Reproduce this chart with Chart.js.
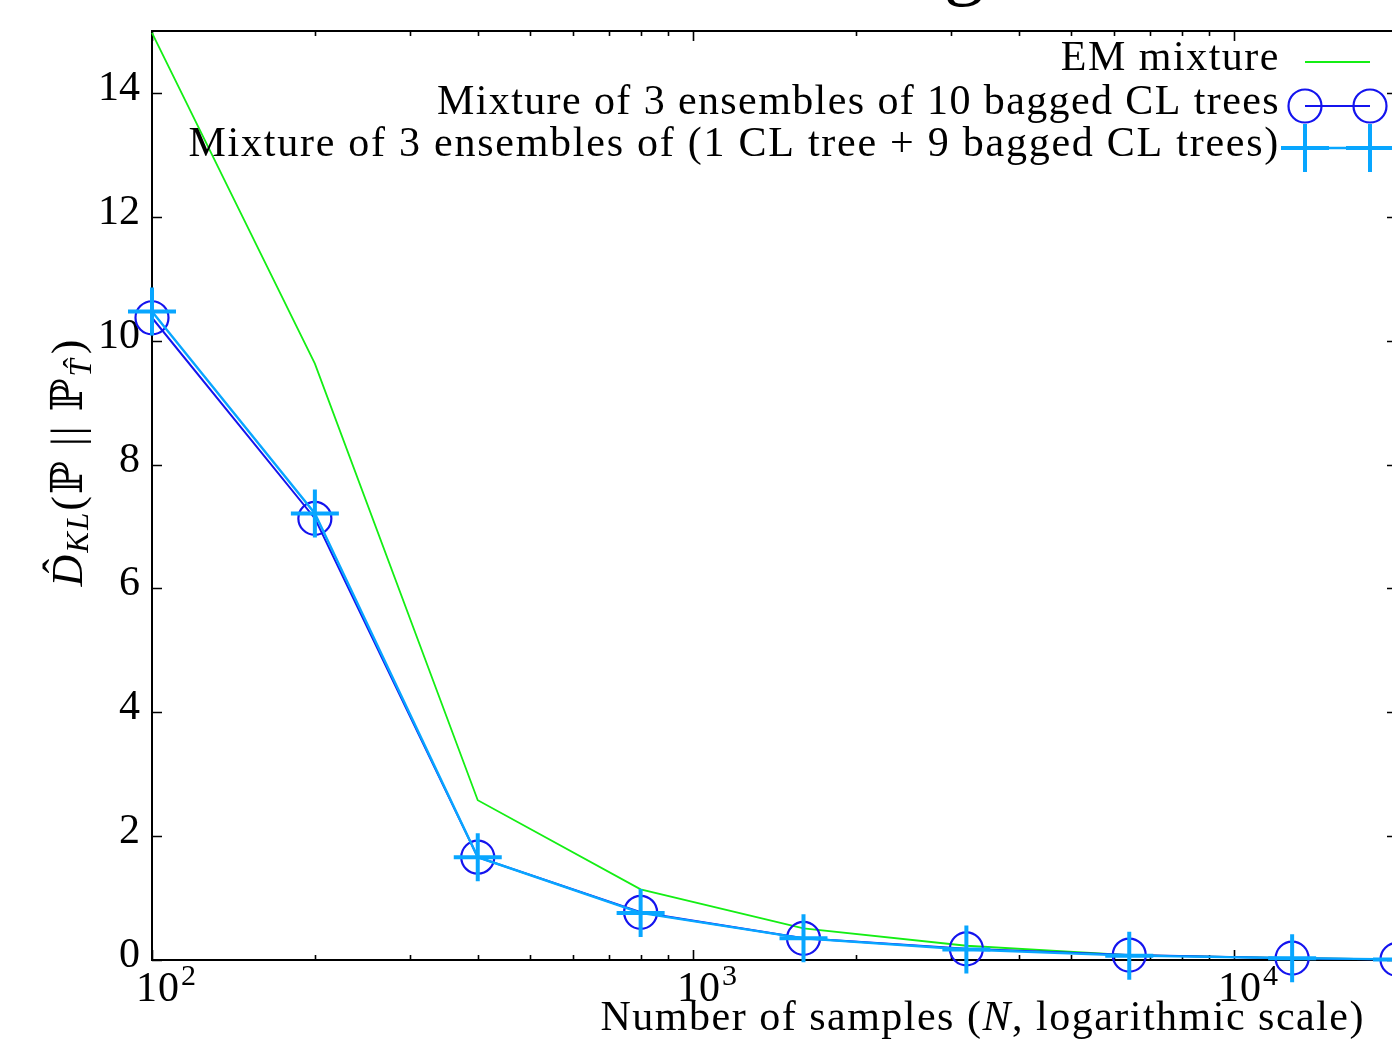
<!DOCTYPE html>
<html><head><meta charset="utf-8">
<script src="https://cdn.jsdelivr.net/npm/chart.js@4.4.0/dist/chart.umd.min.js"></script>
<style>
html,body{margin:0;padding:0;background:#fff;overflow:hidden;width:1392px;height:1043px}
#wrap{position:relative;width:1470px;height:1043px}
canvas{display:block}
#ttl{position:absolute;left:944px;top:-77px;font-size:80px;line-height:80px;font-family:'Liberation Serif','DejaVu Serif',serif;color:#000;white-space:nowrap}
</style></head><body>
<div id="wrap"><canvas id="c" width="1470" height="1043"></canvas><div id="ttl">g</div></div>
<script>
// ---- data ----
const sampleSizes = [100, 200, 400, 800, 1600, 3200, 6400, 12800, 20000];
const emMixture   = [14.97, 9.63, 2.58, 1.14, 0.51, 0.23, 0.08, 0.03, 0.01];
const bagged      = [10.37, 7.13, 1.66, 0.77, 0.35, 0.18, 0.08, 0.03, 0.01];
const cltBagged   = [10.47, 7.21, 1.66, 0.76, 0.35, 0.17, 0.07, 0.03, 0.01];
const seriesLabels = [
  'EM mixture',
  'Mixture of 3 ensembles of 10 bagged CL trees',
  'Mixture of 3 ensembles of (1 CL tree + 9 bagged CL trees)'
];
const yTicks = [0, 2, 4, 6, 8, 10, 12, 14];
const xMajorTicks = [100, 1000, 10000];
const xTickBase = '10';
const xTickExponents = ['2', '3', '4'];
const xTitleParts = ['Number of samples (', 'N', ', logarithmic scale)'];

// ---- styles ----
const FONT = "'Liberation Serif','DejaVu Serif',serif";
const FS = 42;
const GREEN = '#14ee14', DBLUE = '#1414ee', LBLUE = '#08a6ff';
const CW = 1470, CH = 1043;
const AREA = {left: 152, top: 31, right: 1397, bottom: 960};

const pts = arr => sampleSizes.map((x, i) => ({x, y: arr[i]}));

const framePlugin = {
  id: 'frame',
  beforeDatasetsDraw(chart) {
    const {ctx, chartArea: a, scales: {x, y}} = chart;
    ctx.save();
    ctx.strokeStyle = '#000';
    ctx.lineWidth = 2;
    ctx.strokeRect(a.left, a.top, a.right - a.left, a.bottom - a.top);
    ctx.lineWidth = 1.6;
    ctx.beginPath();
    yTicks.forEach(v => {
      const py = Math.round(y.getPixelForValue(v)) + 0.5;
      ctx.moveTo(a.left, py); ctx.lineTo(a.left + 10, py);
      ctx.moveTo(a.right, py); ctx.lineTo(a.right - 10, py);
    });
    for (let d = 100; d <= 10000; d *= 10) {
      for (let m = 1; m <= 9; m++) {
        const v = d * m;
        if (v > x.max) break;
        const len = m === 1 ? 10 : 5;
        const px = Math.round(x.getPixelForValue(v)) + 0.5;
        ctx.moveTo(px, a.bottom); ctx.lineTo(px, a.bottom - len);
        ctx.moveTo(px, a.top); ctx.lineTo(px, a.top + len);
      }
    }
    ctx.stroke();
    // x tick labels 10^k
    ctx.fillStyle = '#000';
    ctx.textBaseline = 'alphabetic';
    ctx.textAlign = 'left';
    xMajorTicks.forEach((v, i) => {
      const px = x.getPixelForValue(v);
      ctx.font = FS + 'px ' + FONT;
      ctx.letterSpacing = '1px';
      const w = ctx.measureText(xTickBase).width;
      ctx.fillText(xTickBase, px - 16, 1001);
      ctx.font = Math.round(FS * 0.72) + 'px ' + FONT;
      ctx.fillText(xTickExponents[i], px - 16 + w + 1, 985);
    });
    ctx.restore();
  },
  afterDraw(chart) {
    const {ctx} = chart;
    ctx.save();
    ctx.fillStyle = '#000';
    // x title
    ctx.textBaseline = 'alphabetic';
    ctx.letterSpacing = '1.5px';
    const fReg = FS + 'px ' + FONT, fIt = 'italic ' + FS + 'px ' + FONT;
    const fonts = [fReg, fIt, fReg];
    let widths = xTitleParts.map((t, i) => { ctx.font = fonts[i]; return ctx.measureText(t).width; });
    let x0 = 1365 - widths.reduce((s, w) => s + w, 0);
    xTitleParts.forEach((t, i) => { ctx.font = fonts[i]; ctx.fillText(t, x0, 1030); x0 += widths[i]; });
    // y title (rotated)
    const YF = 44;
    const sub = Math.round(YF * 0.7);
    ctx.letterSpacing = '2px';
    const parts = [
      {t: 'D', f: 'italic ' + YF + 'px ' + FONT, dy: 0, hat: true},
      {t: 'KL', f: 'italic ' + sub + 'px ' + FONT, dy: 6},
      {t: '(ℙ || ℙ', f: YF + 'px ' + FONT, dy: 0},
      {t: 'T', f: 'italic ' + sub + 'px ' + FONT, dy: 9, hat: true},
      {t: ')', f: YF + 'px ' + FONT, dy: 0}
    ];
    const pw = parts.map(p => { ctx.font = p.f; return ctx.measureText(p.t).width + (p.t === 'T' ? 3 : 0); });
    const total = pw.reduce((s, w) => s + w, 0);
    ctx.translate(82, 462);
    ctx.rotate(-Math.PI / 2);
    let cx = -total / 2;
    parts.forEach((p, i) => {
      ctx.font = p.f;
      ctx.textAlign = 'left';
      ctx.fillText(p.t, cx, p.dy);
      if (p.hat) {
        const size = parseInt(p.f.match(/(\d+)px/)[1]);
        ctx.font = size + 'px ' + FONT;
        ctx.textAlign = 'center';
        ctx.fillText('ˆ', cx + pw[i] / 2 + size * 0.1, p.dy - size * 0.2);
      }
      cx += pw[i];
    });
    ctx.restore();
  },
  afterDatasetsDraw(chart) {
    const ctx = chart.ctx;
    ctx.save();
    ctx.font = FS + 'px ' + FONT;
    ctx.fillStyle = '#000';
    ctx.textAlign = 'right';
    ctx.textBaseline = 'alphabetic';
    const rows = [62, 106, 148];
    const spacing = ['1.5px', '1.4px', '1.75px'];
    const x1 = 1305, x2 = 1370;
    chart.data.datasets.slice().sort((p, q) => p.legendIndex - q.legendIndex).forEach((ds, i) => {
      const yy = rows[i];
      ctx.letterSpacing = spacing[i];
      ctx.fillText(ds.label, 1280, yy + 8);
      ctx.strokeStyle = ds.borderColor;
      ctx.lineWidth = ds.borderWidth;
      ctx.beginPath(); ctx.moveTo(x1, yy); ctx.lineTo(x2, yy); ctx.stroke();
      if (ds.pointStyle === 'circle') {
        ctx.strokeStyle = ds.pointBorderColor; ctx.lineWidth = ds.pointBorderWidth;
        [x1, x2].forEach(px => { ctx.beginPath(); ctx.arc(px, yy, ds.pointRadius, 0, Math.PI * 2); ctx.stroke(); });
      } else if (ds.pointStyle === 'cross') {
        ctx.strokeStyle = ds.pointBorderColor; ctx.lineWidth = ds.pointBorderWidth;
        const r = ds.pointRadius;
        [x1, x2].forEach(px => { ctx.beginPath(); ctx.moveTo(px - r, yy); ctx.lineTo(px + r, yy); ctx.moveTo(px, yy - r); ctx.lineTo(px, yy + r); ctx.stroke(); });
      }
    });
    ctx.restore();
  }
};

new Chart(document.getElementById('c'), {
  type: 'line',
  data: {
    datasets: [
      {label: seriesLabels[0], legendIndex: 0, order: 2, data: pts(emMixture), borderColor: GREEN, borderWidth: 1.8,
       pointRadius: 0, pointStyle: false, clip: false, tension: 0},
      {label: seriesLabels[1], legendIndex: 1, order: 1, data: pts(bagged), borderColor: DBLUE, borderWidth: 2,
       pointStyle: 'circle', pointRadius: 16.5, pointBorderWidth: 2.2, pointBorderColor: DBLUE,
       pointBackgroundColor: 'rgba(0,0,0,0)', clip: false, tension: 0},
      {label: seriesLabels[2], legendIndex: 2, order: 0, data: pts(cltBagged), borderColor: LBLUE, borderWidth: 2.4,
       pointStyle: 'cross', pointRadius: 24, pointBorderWidth: 4, pointBorderColor: LBLUE,
       pointBackgroundColor: LBLUE, clip: false, tension: 0}
    ]
  },
  options: {
    responsive: false,
    animation: false,
    events: [],
    layout: {padding: {left: 0, top: AREA.top, right: CW - AREA.right, bottom: 0}},
    plugins: {legend: {display: false}, tooltip: {enabled: false}, title: {display: false}},
    scales: {
      x: {
        type: 'logarithmic', min: sampleSizes[0], max: sampleSizes[sampleSizes.length - 1],
        grid: {display: false, drawTicks: false}, border: {display: false},
        afterFit(s) { s.height = CH - AREA.bottom; },
        ticks: {display: false, autoSkip: false, maxRotation: 0}
      },
      y: {
        type: 'linear', min: 0, max: 15,
        grid: {display: false, drawTicks: false}, border: {display: false},
        afterFit(s) { s.width = AREA.left; },
        afterBuildTicks(s) { s.ticks = yTicks.map(v => ({value: v})); },
        ticks: {padding: 12, labelOffset: -4, color: '#000', font: {family: FONT, size: FS, lineHeight: 0.8},
                callback: v => String(v)}
      }
    }
  },
  plugins: [framePlugin]
});
</script>
</body></html>
